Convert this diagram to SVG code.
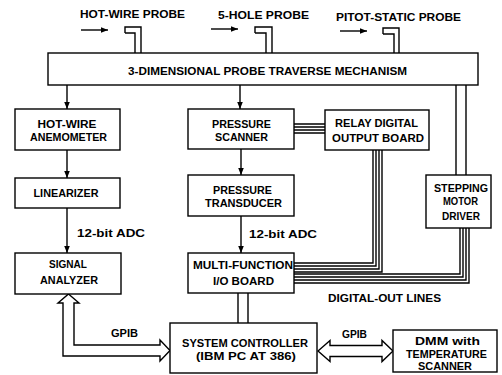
<svg xmlns="http://www.w3.org/2000/svg" width="502" height="375" viewBox="0 0 502 375">
<defs>
<marker id="ah" viewBox="0 0 10 10" refX="10" refY="5" markerWidth="7" markerHeight="7" markerUnits="userSpaceOnUse" orient="auto">
<path d="M0,1 L10,5 L0,9 Z" fill="#000"/>
</marker>
</defs>
<style>
.b{fill:#fff;stroke:#000;stroke-width:1.4}
.l{fill:none;stroke:#000;stroke-width:1.4}
.t{font-family:"Liberation Sans",Arial,sans-serif;font-size:11px;font-weight:bold;fill:#000;text-anchor:middle}
</style>
<rect width="502" height="375" fill="#fff"/>
<g id="connectors">
<line class="l" x1="67" y1="85" x2="67" y2="109" marker-end="url(#ah)"/>
<line class="l" x1="240" y1="85" x2="240" y2="109" marker-end="url(#ah)"/>
<line class="l" x1="67" y1="150" x2="67" y2="178" marker-end="url(#ah)"/>
<line class="l" x1="241" y1="149" x2="241" y2="175" marker-end="url(#ah)"/>
<line class="l" x1="67" y1="208" x2="67" y2="253" marker-end="url(#ah)"/>
<line class="l" x1="241" y1="216" x2="241" y2="253" marker-end="url(#ah)"/>
<line class="l" x1="81" y1="30" x2="108" y2="30" marker-end="url(#ah)"/>
<line class="l" x1="211" y1="29" x2="238" y2="29" marker-end="url(#ah)"/>
<line class="l" x1="340" y1="31" x2="367" y2="31" marker-end="url(#ah)"/>
<path class="l" d="M125,33 L125,27 L141,27 L141,53 M125,33 L135,33 L135,53"/>
<path class="l" d="M255,33 L255,27 L272,27 L272,53 M255,33 L266,33 L266,53"/>
<path class="l" d="M383,34 L383,28 L399,28 L399,54 M383,34 L394,34 L394,54"/>
<path class="l" d="M456,85 L456,175 M466,85 L466,175"/>
<path class="l" d="M238,293 L238,323 M248,293 L248,323"/>
<path class="l" d="M294,124 L325,124 M294,127 L325,127 M294,130 L325,130 M294,133 L325,133"/>
<path class="l" d="M373,150 L373,263 L294,263 M376,150 L376,266 L294,266 M379,150 L379,269 L294,269 M382,150 L382,272 L294,272"/>
<path class="l" d="M460,228 L460,274 L294,274 M463,228 L463,277 L294,277 M466,228 L466,280 L294,280 M469,228 L469,283 L294,283"/>
<path class="b" d="M68.5,294 L79,303 L74,303 L74,345 L160,345 L160,340 L170,350.5 L160,361 L160,356 L63,356 L63,303 L58,303 Z"/>
<path class="b" d="M318,351 L330,340.5 L330,345.5 L382,345.5 L382,340.5 L393,351 L382,361.5 L382,356.5 L330,356.5 L330,361.5 Z"/>
<text class="t" x="111" y="337" textLength="27" lengthAdjust="spacingAndGlyphs" style="text-anchor:start">GPIB</text>
<text class="t" x="342" y="338" textLength="25" lengthAdjust="spacingAndGlyphs" style="text-anchor:start">GPIB</text>
<text class="t" x="77" y="237" textLength="68" lengthAdjust="spacingAndGlyphs" style="text-anchor:start">12-bit ADC</text>
<text class="t" x="249" y="238" textLength="68" lengthAdjust="spacingAndGlyphs" style="text-anchor:start">12-bit ADC</text>
<text class="t" x="328" y="302" textLength="113" lengthAdjust="spacingAndGlyphs" style="text-anchor:start">DIGITAL-OUT LINES</text>
<text class="t" x="80" y="18" textLength="105" lengthAdjust="spacingAndGlyphs" style="text-anchor:start">HOT-WIRE PROBE</text>
<text class="t" x="218" y="19" textLength="91" lengthAdjust="spacingAndGlyphs" style="text-anchor:start">5-HOLE PROBE</text>
<text class="t" x="336" y="21" textLength="125" lengthAdjust="spacingAndGlyphs" style="text-anchor:start">PITOT-STATIC PROBE</text>
</g>
<g id="traverse">
<rect class="b" x="48" y="53" width="430" height="32"/>
<text class="t" x="267.5" y="75" textLength="279" lengthAdjust="spacingAndGlyphs">3-DIMENSIONAL PROBE TRAVERSE MECHANISM</text>
</g>
<g id="anemometer">
<rect class="b" x="15" y="109" width="105" height="41"/>
<text class="t" x="67" y="128" textLength="59" lengthAdjust="spacingAndGlyphs">HOT-WIRE</text>
<text class="t" x="68.5" y="141" textLength="77" lengthAdjust="spacingAndGlyphs">ANEMOMETER</text>
</g>
<g id="linearizer">
<rect class="b" x="15" y="178" width="105" height="30"/>
<text class="t" x="66" y="197" textLength="65" lengthAdjust="spacingAndGlyphs">LINEARIZER</text>
</g>
<g id="signal-analyzer">
<rect class="b" x="15" y="253" width="106" height="41"/>
<text class="t" x="68" y="268" textLength="38" lengthAdjust="spacingAndGlyphs">SIGNAL</text>
<text class="t" x="69" y="284" textLength="58" lengthAdjust="spacingAndGlyphs">ANALYZER</text>
</g>
<g id="pressure-scanner">
<rect class="b" x="188" y="109" width="106" height="40"/>
<text class="t" x="241.5" y="128" textLength="59" lengthAdjust="spacingAndGlyphs">PRESSURE</text>
<text class="t" x="241.5" y="141" textLength="53" lengthAdjust="spacingAndGlyphs">SCANNER</text>
</g>
<g id="pressure-transducer">
<rect class="b" x="188" y="175" width="106" height="41"/>
<text class="t" x="242.5" y="194" textLength="59" lengthAdjust="spacingAndGlyphs">PRESSURE</text>
<text class="t" x="243.5" y="207" textLength="77" lengthAdjust="spacingAndGlyphs">TRANSDUCER</text>
</g>
<g id="relay-board">
<rect class="b" x="325" y="110" width="104" height="40"/>
<text class="t" x="376.5" y="127" textLength="83" lengthAdjust="spacingAndGlyphs">RELAY DIGITAL</text>
<text class="t" x="378" y="142" textLength="92" lengthAdjust="spacingAndGlyphs">OUTPUT BOARD</text>
</g>
<g id="stepping-motor-driver">
<rect class="b" x="426" y="175" width="65" height="53"/>
<text class="t" x="461" y="192" textLength="54" lengthAdjust="spacingAndGlyphs">STEPPING</text>
<text class="t" x="460.5" y="205" textLength="35" lengthAdjust="spacingAndGlyphs">MOTOR</text>
<text class="t" x="461" y="220" textLength="38" lengthAdjust="spacingAndGlyphs">DRIVER</text>
</g>
<g id="multi-function-board">
<rect class="b" x="188" y="253" width="106" height="40"/>
<text class="t" x="243" y="269" textLength="100" lengthAdjust="spacingAndGlyphs">MULTI-FUNCTION</text>
<text class="t" x="243.5" y="285" textLength="61" lengthAdjust="spacingAndGlyphs">I/O BOARD</text>
</g>
<g id="system-controller">
<rect class="b" x="170" y="323" width="147" height="50"/>
<text class="t" x="245" y="347" textLength="126" lengthAdjust="spacingAndGlyphs">SYSTEM CONTROLLER</text>
<text class="t" x="246" y="360" textLength="100" lengthAdjust="spacingAndGlyphs">(IBM PC AT 386)</text>
</g>
<g id="dmm">
<rect class="b" x="393" y="330" width="104" height="42"/>
<text class="t" x="447.5" y="345" textLength="65" lengthAdjust="spacingAndGlyphs">DMM with</text>
<text class="t" x="446.5" y="358" textLength="81" lengthAdjust="spacingAndGlyphs">TEMPERATURE</text>
<text class="t" x="445" y="370" textLength="54" lengthAdjust="spacingAndGlyphs">SCANNER</text>
</g>
</svg>
